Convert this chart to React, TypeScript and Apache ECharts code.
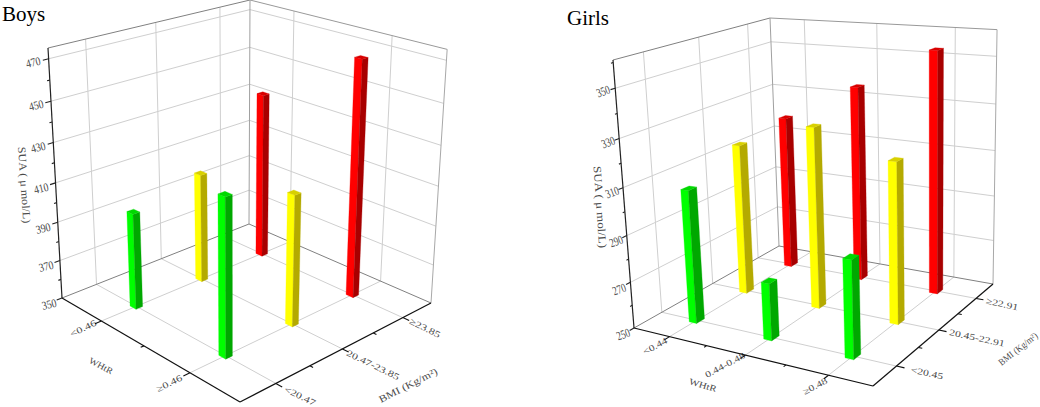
import React, { useEffect, useRef } from "react";
import * as echarts from "echarts";

const title = ["Boys", "Girls"];
const valueName = "SUA ( μ mol/L)";
const rowName = "WHtR";
const colName = "BMI (Kg/m²)";

const boysRows = ["<0.46", "≥0.46"];
const boysCols = ["<20.47", "20.47-23.85", "≥23.85"];
const boysTicks = [350, 370, 390, 410, 430, 450, 470];
const boysGreen = [399, 427];
const boysYellow = [406.5, 415.5];
const boysRed = [437, 469];

const girlsRows = ["<0.44", "0.44-0.48", "≥0.48"];
const girlsCols = ["<20.45", "20.45-22.91", "≥22.91"];
const girlsTicks = [250, 270, 290, 310, 330, 350];
const girlsGreen = [307, 274, 290];
const girlsYellow = [316.5, 328, 318];
const girlsRed = [320, 337, 355];

const FONT = '"Liberation Serif", serif';
type P = [number, number];

function makeProjector(left: P, front: P, right: P, back: P, topLeft: P, topRight: P, min: number, max: number) {
  const [x0, y0] = left, [x1, y1] = front, [x2, y2] = right, [x3, y3] = back;
  const dx1 = x1 - x2, dx2 = x3 - x2, sx = x0 - x1 + x2 - x3;
  const dy1 = y1 - y2, dy2 = y3 - y2, sy = y0 - y1 + y2 - y3;
  const det = dx1 * dy2 - dx2 * dy1;
  const g = (sx * dy2 - dx2 * sy) / det;
  const h = (dx1 * sy - sx * dy1) / det;
  const a = x1 - x0 + g * x1, b = x3 - x0 + h * x3, c = x0;
  const d = y1 - y0 + g * y1, e = y3 - y0 + h * y3, f = y0;
  const ml = (x0 - topLeft[0]) / (y0 - topLeft[1]);
  const mr = (x2 - topRight[0]) / (y2 - topRight[1]);
  const vy = (x2 - mr * y2 - x0 + ml * y0) / (ml - mr);
  const vx = x0 + ml * (vy - y0);
  const lam = (y0 - topLeft[1]) / (topLeft[1] - vy);
  return (u: number, v: number, val: number): P => {
    const w = (lam * (val - min)) / (max - min);
    const q = g * u + h * v + 1 + w;
    return [(a * u + b * v + c + w * vx) / q, (d * u + e * v + f + w * vy) / q];
  };
}

const boysProject = makeProjector([62, 298], [240, 402], [431, 303], [249, 224], [48, 48], [447, 52], 350, 475);
const girlsProject = makeProjector([634, 328], [873, 386], [993, 284], [779, 246], [613, 60], [997, 33], 250, 361);
const projectors = [boysProject, girlsProject];
const halfU = [0.018, 0.017];
const halfV = [0.016, 0.025];
const faces = [
  ["#00ff00", "#00a800", "#00d800"],
  ["#ffff00", "#b4aa00", "#d8d000"],
  ["#ff0000", "#a80000", "#d80000"],
];

function frameSegments(panel: number, min: number, max: number, ticks: number[], nRows: number, nCols: number) {
  const out: { value: number[]; stroke: string; w: number }[] = [];
  const add = (u1: number, v1: number, z1: number, u2: number, v2: number, z2: number, stroke: string, w: number) =>
    out.push({ value: [panel, u1, v1, z1, u2, v2, z2], stroke, w });
  const grid = "#cfcfcf";
  const rowPos = Array.from({ length: nRows }, (_, i) => (i + 0.5) / nRows);
  const colPos = Array.from({ length: nCols }, (_, i) => (i + 0.5) / nCols);
  ticks.forEach((t) => {
    if (t === min) return;
    add(0, 0, t, 0, 1, t, grid, 1);
    add(0, 1, t, 1, 1, t, grid, 1);
  });
  colPos.forEach((v) => {
    add(0, v, min, 0, v, max, grid, 1);
    add(0, v, min, 1, v, min, grid, 1);
  });
  rowPos.forEach((u) => {
    add(u, 1, min, u, 1, max, grid, 1);
    add(u, 0, min, u, 1, min, grid, 1);
  });
  add(0, 0, max, 0, 1, max, "#808080", 1);
  add(0, 1, max, 1, 1, max, "#999999", 1);
  add(0, 1, min, 0, 1, max, "#a0a0a0", 1);
  add(1, 1, min, 1, 1, max, "#a8a8a8", 1);
  add(0, 0, min, 0, 1, min, "#808080", 1);
  add(0, 1, min, 1, 1, min, "#808080", 1);
  // axes
  add(0, 0, min, 0, 0, max, "#222222", 1.2);
  add(0, 0, min, 1, 0, min, "#111111", 1.2);
  add(1, 0, min, 1, 1, min, "#111111", 1.2);
  const step = ticks[1] - ticks[0];
  for (let t = min; t <= max; t += step / 2) {
    const major = ticks.includes(t);
    add(0, 0, t, 0, major ? -0.025 : -0.012, t, "#222222", 1.1);
  }
  for (let i = 0; i < nRows; i++) {
    add(rowPos[i], 0, min, rowPos[i], -0.03, min, "#111111", 1.1);
    if (i < nRows - 1) add((i + 1) / nRows, 0, min, (i + 1) / nRows, -0.015, min, "#111111", 1.1);
  }
  for (let i = 0; i < nCols; i++) {
    add(1, colPos[i], min, 1.03, colPos[i], min, "#111111", 1.1);
    if (i < nCols - 1) add(1, (i + 1) / nCols, min, 1.015, (i + 1) / nCols, min, "#111111", 1.1);
  }
  return out;
}

function barRows(panel: number, nRows: number, series: number[][]) {
  const out: number[][] = [];
  series.forEach((vals, c) => {
    vals.forEach((val, r) => {
      const u = (r + 0.5) / nRows;
      const v = (c + 0.5) / series.length;
      out.push([panel, u, v, val, c]);
    });
  });
  return out.sort((p, q) => p[1] - p[2] - (q[1] - q[2]));
}

const d2r = Math.PI / 180;
function label(text: string, x: number, y: number, deg: number, size = 10, sx = 1, fill = "#4a4a4a", skewDeg = 0) {
  return {
    type: "text",
    x,
    y,
    rotation: deg * d2r,
    scaleX: sx,
    skewX: skewDeg * d2r,
    silent: true,
    style: { text, font: `${size}px ${FONT}`, fill, align: "center", verticalAlign: "middle" },
  };
}

function buildTexts() {
  const out: any[] = [];
  out.push({
    type: "text", x: 2, y: 14, silent: true,
    style: { text: title[0], font: `21px ${FONT}`, fill: "#000", align: "left", verticalAlign: "middle" },
  });
  out.push({
    type: "text", x: 567, y: 18, silent: true,
    style: { text: title[1], font: `21px ${FONT}`, fill: "#000", align: "left", verticalAlign: "middle" },
  });
  const bVal: P[] = [[49, 304], [46, 266], [43, 228], [41, 188], [38, 147], [36, 105], [33, 62]];
  boysTicks.forEach((t, i) => out.push(label(String(t), bVal[i][0], bVal[i][1], 14, 12, 0.82)));
  out.push(label(valueName, 24, 185, -86, 11, 1.1));
  const bRow: P[] = [[83, 328], [169, 383]];
  boysRows.forEach((t, i) => out.push(label(t, bRow[i][0], bRow[i][1], 26, 9, 1.35)));
  out.push(label(rowName, 101, 366, -28, 9, 1.1));
  const bCol: P[] = [[300, 396], [373, 365], [425, 328]];
  boysCols.forEach((t, i) => out.push(label(t, bCol[i][0], bCol[i][1], -26, 9, 1.33)));
  out.push(label(colName, 408, 385, 27, 10, 1.2));

  const gVal: P[] = [[623, 334], [619, 289], [616, 241], [612, 192], [608, 142], [603, 91]];
  girlsTicks.forEach((t, i) => out.push(label(String(t), gVal[i][0], gVal[i][1], 20, 12.5, 0.72)));
  out.push(label(valueName, 600, 207, -86, 11, 1.18));
  const gRow: P[] = [[655, 346], [725, 365], [815, 386]];
  girlsRows.forEach((t, i) => out.push(label(t, gRow[i][0], gRow[i][1], 28, 9, 1.28)));
  out.push(label(rowName, 703, 385, -17, 9, 1.2));
  const gCol: P[] = [[927, 373], [977, 338], [1002, 304]];
  girlsCols.forEach((t, i) => out.push(label(t, gCol[i][0], gCol[i][1], -12, 9, 1.3)));
  out.push(label(colName, 1018, 349, 38, 9.5, 0.92));
  return out;
}

export default function App() {
  const ref = useRef<HTMLDivElement>(null);
  useEffect(() => {
    document.body.style.margin = "0";
    const chart = echarts.init(ref.current!, null, { renderer: "svg" });
    const segs = [
      ...frameSegments(0, 350, 475, boysTicks, boysRows.length, boysCols.length),
      ...frameSegments(1, 250, 361, girlsTicks, girlsRows.length, girlsCols.length),
    ];
    const bars = [
      ...barRows(0, boysRows.length, [boysGreen, boysYellow, boysRed]),
      ...barRows(1, girlsRows.length, [girlsGreen, girlsYellow, girlsRed]),
    ];
    chart.setOption({
      animation: false,
      backgroundColor: "#ffffff",
      graphic: buildTexts(),
      series: [
        {
          type: "custom",
          coordinateSystem: "none",
          silent: true,
          z: 1,
          data: segs.map((s) => s.value),
          renderItem: (params: any, api: any) => {
            const s = segs[params.dataIndex];
            const pr = projectors[api.value(0)];
            const p1 = pr(api.value(1), api.value(2), api.value(3));
            const p2 = pr(api.value(4), api.value(5), api.value(6));
            return {
              type: "line",
              shape: { x1: p1[0], y1: p1[1], x2: p2[0], y2: p2[1] },
              style: { stroke: s.stroke, lineWidth: s.w, fill: "none" },
            };
          },
        },
        {
          type: "custom",
          coordinateSystem: "none",
          silent: true,
          z: 2,
          data: bars,
          renderItem: (_params: any, api: any) => {
            const panel = api.value(0);
            const pr = projectors[panel];
            const u = api.value(1), v = api.value(2), val = api.value(3), c = api.value(4);
            const du = halfU[panel], dv = halfV[panel];
            const base = panel === 0 ? 350 : 250;
            const poly = (pts: P[], fill: string) => ({ type: "polygon", shape: { points: pts }, style: { fill, stroke: fill, lineWidth: 0.3 } });
            return {
              type: "group",
              children: [
                poly([pr(u - du, v - dv, base), pr(u + du, v - dv, base), pr(u + du, v - dv, val), pr(u - du, v - dv, val)], faces[c][0]),
                poly([pr(u + du, v - dv, base), pr(u + du, v + dv, base), pr(u + du, v + dv, val), pr(u + du, v - dv, val)], faces[c][1]),
                poly([pr(u - du, v - dv, val), pr(u + du, v - dv, val), pr(u + du, v + dv, val), pr(u - du, v + dv, val)], faces[c][2]),
              ],
            };
          },
        },
      ],
    });
    return () => chart.dispose();
  }, []);
  return <div ref={ref} style={{ position: "absolute", left: 0, top: 0, width: 1040, height: 407 }} />;
}
